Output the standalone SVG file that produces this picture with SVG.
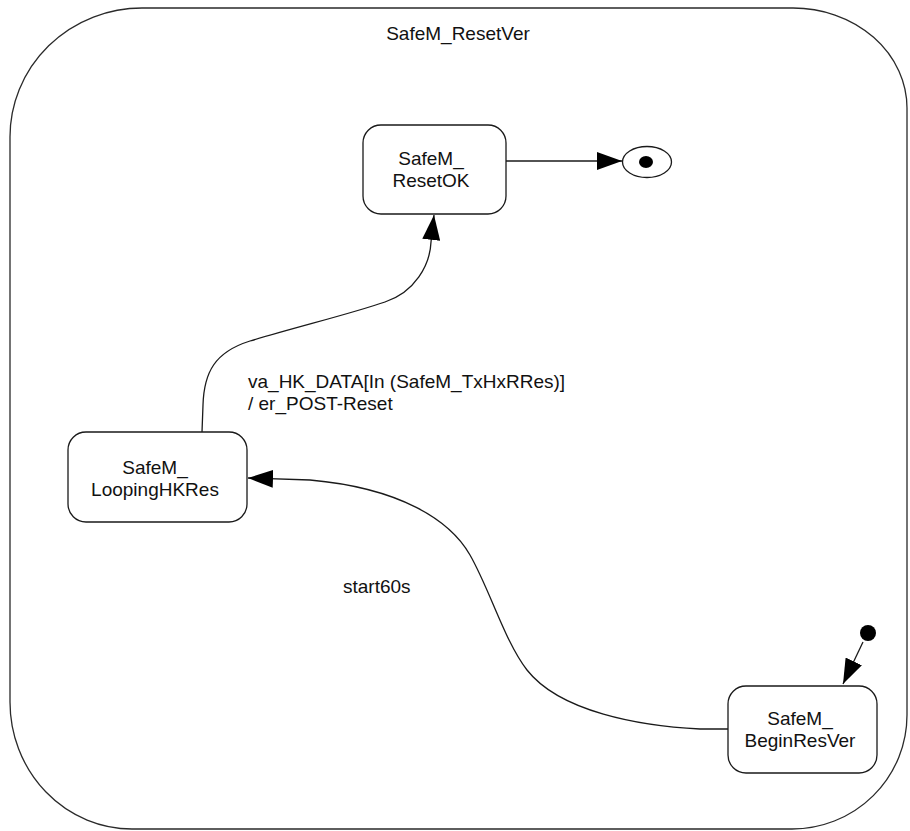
<svg xmlns="http://www.w3.org/2000/svg" width="910" height="831" viewBox="0 0 910 831">
  <style>
    .frame { fill: none; stroke: #2a2a2a; stroke-width: 1.3; }
    .state { fill: #ffffff; stroke: #1a1a1a; stroke-width: 1.3; }
    .label { font-family: "Liberation Sans", Arial, sans-serif; font-size: 19px; fill: #111111; }
    .mid { text-anchor: middle; }
    .edge { fill: none; stroke: #1a1a1a; stroke-width: 1.3; }
  </style>
  <defs>
    <marker id="arrow" viewBox="0 0 25 18" refX="25" refY="9" markerWidth="25" markerHeight="18" markerUnits="userSpaceOnUse" orient="auto">
      <path d="M0,0 L25,9 L0,18 z" fill="#000000"/>
    </marker>
  </defs>

  <rect width="910" height="831" fill="#ffffff"/>

  <!-- composite state SafeM_ResetVer -->
  <g id="SafeM_ResetVer">
    <path class="frame" d="M142,8 H793 A114,100 0 0 1 907,108 V715 A115,114 0 0 1 792,829 H132 A122,127 0 0 1 10,702 V137 A132,129 0 0 1 142,8 Z"/>
    <text class="label mid" x="458" y="40">SafeM_ResetVer</text>
  </g>

  <!-- transitions -->
  <g id="connectors">
    <path class="edge" d="M506,161 L622,161" marker-end="url(#arrow)"/>
    <path class="edge" d="M202,432 L203,405 C204,372 215,352 250,341 C300,326 350,314 385,302 C415,292 430,265 431,242 L434,215" marker-end="url(#arrow)"/>
    <path class="edge" d="M728,729 L700,729 C640,726 560,712 527,670 C505,642 490,590 470,555 C450,520 400,488 310,480 L248,478" marker-end="url(#arrow)"/>
    <path class="edge" d="M863,642 L843,684" marker-end="url(#arrow)"/>
    <text class="label" x="248" y="388">va_HK_DATA[In (SafeM_TxHxRRes)]</text>
    <text class="label" x="248" y="410">/ er_POST-Reset</text>
    <text class="label" x="343" y="593">start60s</text>
  </g>

  <g id="SafeM_ResetOK">
    <rect class="state" x="363" y="125" width="143" height="89" rx="18" ry="18"/>
    <text class="label mid" x="431" y="165">SafeM_</text>
    <text class="label mid" x="431" y="187">ResetOK</text>
  </g>

  <g id="final">
    <ellipse cx="647" cy="162" rx="24.5" ry="15.5" fill="#ffffff" stroke="#1a1a1a" stroke-width="1.3"/>
    <ellipse cx="646" cy="162" rx="7" ry="6" fill="#000000"/>
  </g>

  <g id="SafeM_LoopingHKRes">
    <rect class="state" x="68" y="432" width="179" height="90" rx="18" ry="18"/>
    <text class="label mid" x="155" y="474">SafeM_</text>
    <text class="label mid" x="155" y="496">LoopingHKRes</text>
  </g>

  <g id="SafeM_BeginResVer">
    <rect class="state" x="728" y="686" width="149" height="87" rx="18" ry="18"/>
    <text class="label mid" x="800" y="725">SafeM_</text>
    <text class="label mid" x="800" y="747">BeginResVer</text>
  </g>

  <g id="initial">
    <circle cx="868" cy="633" r="8" fill="#000000"/>
  </g>
</svg>
